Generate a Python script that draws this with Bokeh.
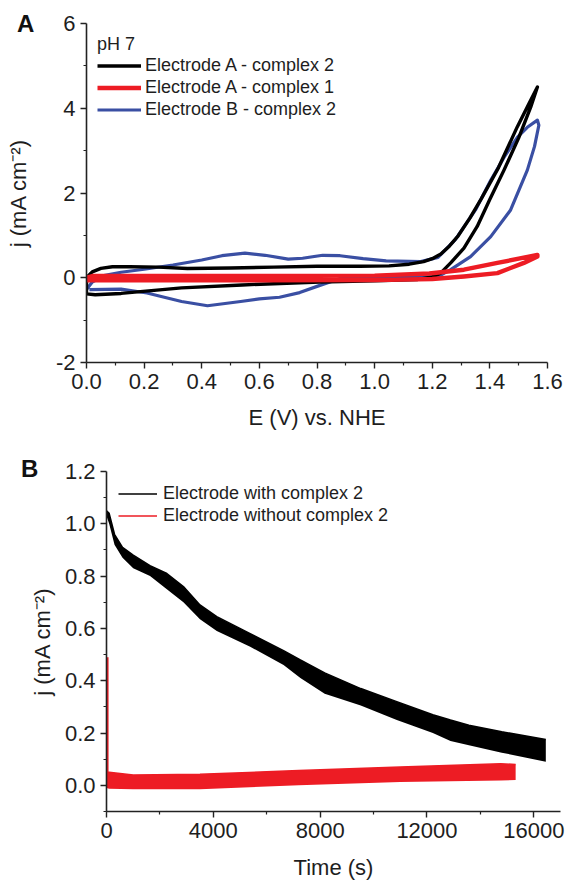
from bokeh.plotting import figure
from bokeh.models import (Legend, LegendItem, FixedTicker, NumeralTickFormatter, Range1d, Div)
from bokeh.embed import file_html
from bokeh.resources import INLINE

# ---------------- Panel A: cyclic voltammograms (E / V vs NHE, j / mA cm-2) --------------
black_E = [0.0, 0.0, 0.02, 0.05, 0.09, 0.15, 0.25, 0.35, 0.5, 0.65, 0.8, 0.95, 1.05, 1.12,
           1.17, 1.2, 1.23, 1.26, 1.29, 1.33, 1.37, 1.43, 1.495, 1.535, 1.565, 1.542, 1.5,
           1.449, 1.4, 1.356, 1.31, 1.264, 1.229, 1.2, 1.15, 1.0, 0.81, 0.54, 0.33, 0.12,
           0.03, 0.0]
black_j = [-0.38, 0.0, 0.14, 0.22, 0.26, 0.26, 0.25, 0.22, 0.23, 0.25, 0.27, 0.27, 0.28, 0.32,
           0.38, 0.45, 0.56, 0.75, 0.99, 1.4, 1.86, 2.6, 3.56, 4.1, 4.5, 4.03, 3.3,
           2.54, 1.85, 1.21, 0.7, 0.35, 0.11, 0.02, -0.04, -0.07, -0.1, -0.17, -0.24, -0.37,
           -0.4, -0.38]

blue_E = [0.0, 0.02, 0.06, 0.12, 0.2, 0.3, 0.4, 0.47, 0.55, 0.62, 0.7, 0.75, 0.82, 0.88,
          0.96, 1.04, 1.16, 1.22, 1.28, 1.35, 1.403, 1.45, 1.496, 1.53, 1.565, 1.57, 1.555,
          1.53, 1.472, 1.403, 1.333, 1.264, 1.22, 1.1, 1.0, 0.88, 0.81, 0.74, 0.67, 0.6,
          0.535, 0.42, 0.33, 0.21, 0.12, 0.01]
blue_j = [-0.28, -0.1, 0.05, 0.13, 0.2, 0.3, 0.42, 0.52, 0.58, 0.53, 0.44, 0.46, 0.53, 0.52,
          0.45, 0.4, 0.38, 0.48, 0.9, 1.6, 2.3, 2.85, 3.32, 3.55, 3.72, 3.6, 3.1,
          2.54, 1.6, 0.97, 0.5, 0.19, 0.03, 0.02, 0.02, -0.02, -0.18, -0.35, -0.46, -0.5,
          -0.56, -0.66, -0.56, -0.36, -0.27, -0.28]

red_E = [0.0, 0.02, 0.1, 0.5, 1.0, 1.19, 1.31, 1.426, 1.5, 1.565, 1.565, 1.518, 1.426,
         1.31, 1.2, 1.0, 0.5, 0.1, 0.0, 0.0]
red_j = [0.0, 0.04, 0.04, 0.04, 0.05, 0.1, 0.19, 0.35, 0.45, 0.54, 0.5, 0.35, 0.11,
         0.03, -0.03, -0.055, -0.06, -0.06, -0.06, 0.0]

legendA_title = "pH 7"
legendA_labels = ["Electrode A - complex 2", "Electrode A - complex 1", "Electrode B - complex 2"]
A_xticks = [0.0, 0.2, 0.4, 0.6, 0.8, 1.0, 1.2, 1.4, 1.6]
A_xminor = [0.1, 0.3, 0.5, 0.7, 0.9, 1.1, 1.3, 1.5]
A_yticks = [-2, 0, 2, 4, 6]
A_yminor = [-1, 1, 3, 5]

# ---------------- Panel B: chronoamperometry (time / s, j / mA cm-2) --------------------
withc_t = [0, 100, 300, 600, 1000, 1630, 2260, 2880, 3500, 4130, 5380, 6630, 7260, 8170,
           9520, 10870, 12220, 12880, 13570, 14800, 16450]
withc_hi = [1.05, 1.04, 0.96, 0.91, 0.88, 0.84, 0.81, 0.76, 0.69, 0.645, 0.58, 0.515, 0.48,
            0.43, 0.37, 0.32, 0.27, 0.25, 0.23, 0.205, 0.175]
withc_lo = [1.03, 1.0, 0.92, 0.87, 0.83, 0.80, 0.75, 0.70, 0.635, 0.59, 0.53, 0.46, 0.41,
            0.35, 0.305, 0.25, 0.20, 0.17, 0.153, 0.125, 0.09]

without_t = [0, 100, 1000, 3500, 7200, 11000, 14760, 15320]
without_hi = [0.05, 0.05, 0.04, 0.042, 0.057, 0.07, 0.083, 0.08]
without_lo = [-0.01, -0.013, -0.015, -0.015, 0.0, 0.013, 0.019, 0.02]
spike_t = [40, 40]
spike_j = [0.49, 0.0]

legendB_labels = ["Electrode with complex 2", "Electrode without complex 2"]
B_xticks = [0, 4000, 8000, 12000, 16000]
B_xminor = [2000, 6000, 10000, 14000]
B_yticks = [0.0, 0.2, 0.4, 0.6, 0.8, 1.0, 1.2]
B_yminor = [-0.1, 0.1, 0.3, 0.5, 0.7, 0.9, 1.1]

BLACK = "#000000"
RED = "#ed1c24"
BLUE = "#3a4fa3"
TXT = "#1e1e1e"
FONT = "Liberation Sans"
W = 565


def style_axes(p, xt, xm, yt, ym, xfmt, yfmt, xlabel, ylabel, xstand, ystand):
    p.grid.visible = False
    p.outline_line_color = None
    p.xaxis.ticker = FixedTicker(ticks=xt, minor_ticks=xm)
    p.yaxis.ticker = FixedTicker(ticks=yt, minor_ticks=ym)
    p.xaxis.formatter = NumeralTickFormatter(format=xfmt)
    p.yaxis.formatter = NumeralTickFormatter(format=yfmt)
    p.xaxis.axis_label = xlabel
    p.yaxis.axis_label = ylabel
    p.xaxis.axis_label_standoff = xstand
    p.yaxis.axis_label_standoff = ystand
    for ax in (p.xaxis[0], p.yaxis[0]):
        ax.axis_line_color = "#222222"
        ax.axis_line_width = 1.6
        ax.major_tick_line_color = "#222222"
        ax.minor_tick_line_color = "#222222"
        ax.major_tick_line_width = 1.4
        ax.minor_tick_line_width = 1.2
        ax.major_tick_out = 6
        ax.major_tick_in = 0
        ax.minor_tick_out = 3
        ax.minor_tick_in = 0
        ax.major_label_text_font = FONT
        ax.major_label_text_font_size = "22px"
        ax.major_label_text_color = TXT
        ax.major_label_standoff = 5
        ax.axis_label_text_font = FONT
        ax.axis_label_text_font_size = "22px"
        ax.axis_label_text_font_style = "normal"
        ax.axis_label_text_color = TXT


# ---------------- figure A ----------------
A_h = 455
A_left, A_right, A_top, A_fh = 86, 18, 23, 339
pA = figure(width=W, height=A_h, x_range=Range1d(0, 1.6), y_range=Range1d(-2, 6),
            output_backend="svg", toolbar_location=None,
            min_border_left=A_left, min_border_right=A_right, min_border_top=A_top,
            min_border_bottom=A_h - A_top - A_fh)
style_axes(pA, A_xticks, A_xminor, A_yticks, A_yminor, "0.0", "0",
           "E (V) vs. NHE", "j (mA cm\u207b\u00b2)", 13, 22)

rB = pA.line(blue_E, blue_j, line_color=BLUE, line_width=3.2, line_join="round")
rK = pA.line(black_E, black_j, line_color=BLACK, line_width=3.4, line_join="round")
rR = pA.line(red_E, red_j, line_color=RED, line_width=4.4, line_join="round")

legA = Legend(items=[LegendItem(label=legendA_labels[0], renderers=[rK]),
                     LegendItem(label=legendA_labels[1], renderers=[rR]),
                     LegendItem(label=legendA_labels[2], renderers=[rB])],
              location="top_left", title=legendA_title, margin=11, padding=0,
              border_line_color=None, background_fill_alpha=0,
              label_text_font=FONT, label_text_font_size="18px", label_text_color=TXT,
              title_text_font=FONT, title_text_font_size="18px", title_text_font_style="normal",
              title_text_color=TXT, title_standoff=0,
              glyph_width=44, glyph_height=21, label_height=21, label_standoff=4, spacing=1)
pA.add_layout(legA)

# ---------------- figure B ----------------
B_h = 427
B_left, B_right, B_top, B_fh = 106, 5, 16, 341
pB = figure(width=W, height=B_h, x_range=Range1d(0, 17000), y_range=Range1d(-0.1, 1.2),
            output_backend="svg", toolbar_location=None,
            min_border_left=B_left, min_border_right=B_right, min_border_top=B_top,
            min_border_bottom=B_h - B_top - B_fh)
style_axes(pB, B_xticks, B_xminor, B_yticks, B_yminor, "0", "0.0",
           "Time (s)", "j (mA cm\u207b\u00b2)", 14, 7)

pB.varea(x=withc_t, y1=withc_lo, y2=withc_hi, fill_color=BLACK)
lK = pB.line(withc_t, withc_hi, line_color=BLACK, line_width=1.5)
pB.varea(x=without_t, y1=without_lo, y2=without_hi, fill_color=RED)
lR = pB.line(without_t, without_hi, line_color=RED, line_width=1.5)
pB.line(spike_t, spike_j, line_color=RED, line_width=2)

legB = Legend(items=[LegendItem(label=legendB_labels[0], renderers=[lK]),
                     LegendItem(label=legendB_labels[1], renderers=[lR])],
              location="top_left", margin=12, padding=0,
              border_line_color=None, background_fill_alpha=0,
              label_text_font=FONT, label_text_font_size="18px", label_text_color=TXT,
              glyph_width=39, glyph_height=21, label_height=21, label_standoff=6, spacing=1)
pB.add_layout(legB)

# ---------------- panel letters ----------------
def letter(txt, left, top):
    return Div(text=txt, styles={"position": "absolute", "left": f"{left}px", "top": f"{top}px",
                                 "font-family": "Liberation Sans, Arial, sans-serif",
                                 "font-size": "24px", "font-weight": "bold",
                                 "color": "#111111", "line-height": "normal",
                                 "margin": "0", "padding": "0"})


divA = letter("A", 17, 10)
divB = letter("B", 21, 455)

open("out.html", "w").write(file_html([pA, pB, divA, divB], INLINE))
